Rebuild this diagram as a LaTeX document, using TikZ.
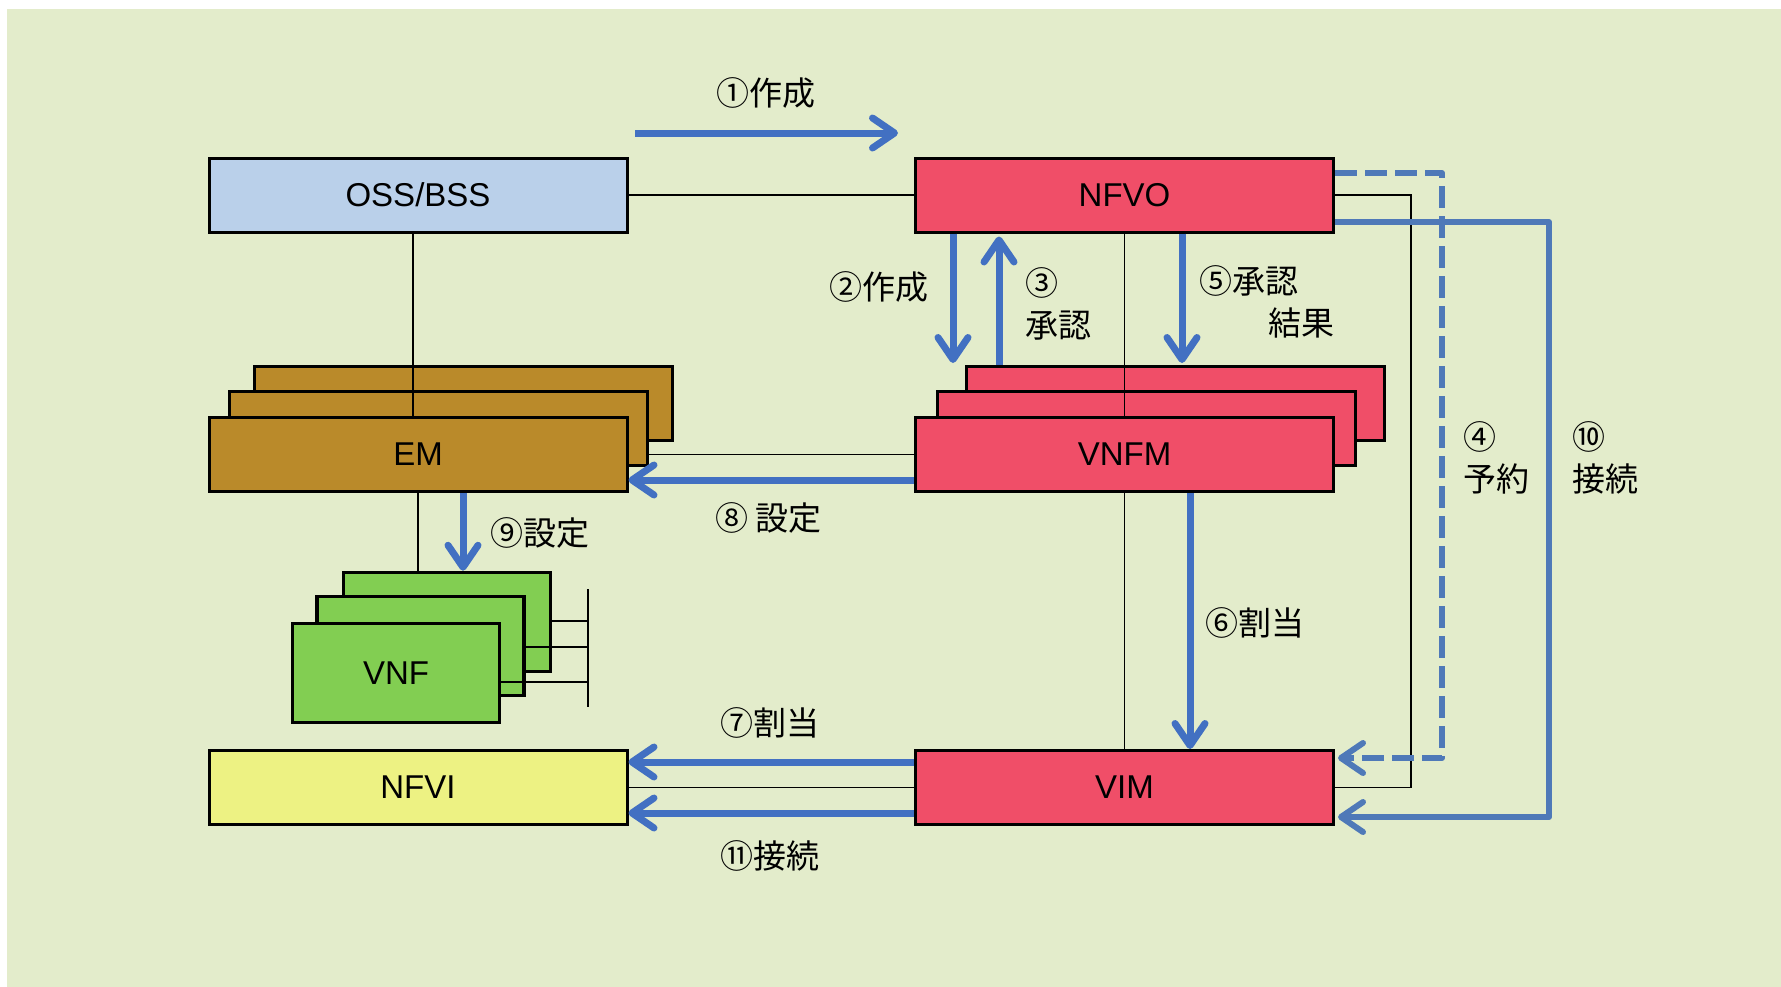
\documentclass[tikz,border=0pt]{standalone}
\usepackage{fontspec}
\setmainfont{Liberation Sans}
\newfontfamily\cjk{Noto Sans CJK JP}
\usetikzlibrary{arrows.meta}
\definecolor{bgc}{RGB}{227,236,203}
\definecolor{ossc}{RGB}{186,208,234}
\definecolor{redc}{RGB}{240,78,104}
\definecolor{emc}{RGB}{186,138,42}
\definecolor{vnfc}{RGB}{130,206,82}
\definecolor{nfvic}{RGB}{237,242,131}
\definecolor{flowc}{RGB}{66,112,194}
\definecolor{loopc}{RGB}{79,121,184}
\begin{document}
\begin{tikzpicture}[x=1pt,y=-1pt,
  box/.style={draw=black, line width=3pt, minimum width=418pt, minimum height=74pt, inner sep=0pt, text depth=0pt, font=\fontsize{33}{40}\selectfont},
  vbox/.style={draw=black, line width=3.5pt, fill=vnfc, minimum width=207pt, minimum height=99pt, inner sep=0pt, text depth=0pt, font=\fontsize{33}{40}\selectfont},
  lbl/.style={font=\cjk\fontsize{33}{42}\selectfont, inner sep=0pt, align=left, anchor=west},
  thin/.style={draw=black, line width=1.5pt},
  flow/.style={draw=flowc, line width=7pt, -{Straight Barb[length=22pt,width=30pt,round]}},
  loopflow/.style={draw=loopc, line width=6pt, line join=round, -{Straight Barb[length=22pt,width=30pt,round]}}
]
\useasboundingbox (0,0) rectangle (1781,986);
\fill[white] (-5,-5) rectangle (1790,995);
\fill[bgc] (7,9) rectangle (1790,995);

% boxes
\node[box, fill=ossc] (oss) at (418,195) {OSS/BSS};
\node[box, fill=redc] (nfvo) at (1124.5,195) {NFVO};

\node[box, fill=emc] (emb) at (463,403.5) {};
\node[box, fill=emc] (emm) at (438,428.5) {};
\node[box, fill=emc] (em) at (418,454.5) {EM};

\node[box, fill=redc] (vnfmb) at (1175.5,403.5) {};
\node[box, fill=redc] (vnfmm) at (1146.5,428.5) {};
\node[box, fill=redc] (vnfm) at (1124.5,454.5) {VNFM};

\node[vbox] (vnfb) at (447,622) {};
\node[vbox] (vnfmid) at (420.5,646) {};
\node[vbox] (vnf) at (396,673) {VNF};

\node[box, fill=nfvic] (nfvi) at (418,787.5) {NFVI};
\node[box, fill=redc] (vim) at (1124.5,787.5) {VIM};

% thin connectors
\coordinate (bustop) at (588,589);
\coordinate (busbot) at (588,707);
\draw[thin] (oss.east) -- (nfvo.west);
\draw[thin] ([xshift=-5pt]oss.south) -- ([xshift=-5pt]em.north);
\draw[thin] (em.south) -- (em.south |- vnfb.north);
\draw[thin] (em.center -| emm.east) -- (vnfm.west);
\draw[thin] (nfvo.south) -- (vnfm.north);
\draw[thin] (vnfm.south) -- (vim.north);
\draw[thin] (nfvi.east) -- (vim.west);
\draw[thin] (nfvo.east) -- ++(76,0) |- (vim.east);
\draw[thin] (bustop) -- (busbot);
\draw[thin] ([yshift=1pt]vnfb.east) -- ([yshift=1pt]vnfb.east -| bustop);
\draw[thin] ([yshift=-1pt]vnfmid.east) -- ([yshift=-1pt]vnfmid.east -| bustop);
\draw[thin] ([yshift=-9pt]vnf.east) -- ([yshift=-9pt]vnf.east -| bustop);

% blue flows
\coordinate (a1s) at (635,133);
\coordinate (a1e) at (898,133);
\draw[flow] (a1s) -- (a1e);
\draw[flow] ([xshift=-171.5pt]nfvo.south) -- ([xshift=-171.5pt,yshift=2pt]nfvo.south |- vnfmb.north);
\draw[flow, shorten >=3pt] ([xshift=-125.5pt]nfvo.south |- vnfmb.north) -- ([xshift=-125.5pt]nfvo.south);
\draw[flow] ([xshift=57.5pt]nfvo.south) -- ([xshift=57.5pt,yshift=2pt]nfvo.south |- vnfmb.north);
\draw[flow] ([xshift=65.5pt]vnfm.south) -- ([xshift=65.5pt]vim.north);
\draw[flow] ([yshift=25.5pt]vim.west) -- ([yshift=25.5pt]vim.west -| nfvi.east);
\draw[flow] ([yshift=-25.5pt]vim.west) -- ([yshift=-25.5pt]vim.west -| nfvi.east);
\draw[flow] ([yshift=-25.5pt]vnfm.west) -- ([yshift=-25.5pt]vnfm.west -| em.east);
\draw[flow] ([xshift=45pt]em.south) -- ([xshift=45pt]em.south |- vnfb.north);
\draw[loopflow, dash pattern=on 22pt off 8pt, shorten >=3pt] ([yshift=22pt]nfvo.east) -- ++(107,0) |- ([yshift=29.5pt]vim.east);
\draw[loopflow, shorten >=3pt] ([yshift=-27pt]nfvo.east) -- ++(214,0) |- ([yshift=-29.5pt]vim.east);

% labels
\node[lbl] (l1) at (716,93) {①作成};
\node[lbl] (l2) at (829,287) {②作成};
\node[lbl] (l3) at (1025,304) {③\\承認};
\node[lbl] (l5) at (1199,302) {⑤承認\\\hspace*{2.1em}結果};
\node[lbl] (l4) at (1463,457.5) {④\\予約};
\node[lbl] (l10) at (1572,457.5) {⑩\\接続};
\node[lbl] (l6) at (1205,623) {⑥割当};
\node[lbl] (l7) at (720,723) {⑦割当};
\node[lbl] (l11) at (720,856) {⑪接続};
\node[lbl] (l8) at (715,518) {⑧ 設定};
\node[lbl] (l9) at (490,533) {⑨設定};
\end{tikzpicture}
\end{document}
